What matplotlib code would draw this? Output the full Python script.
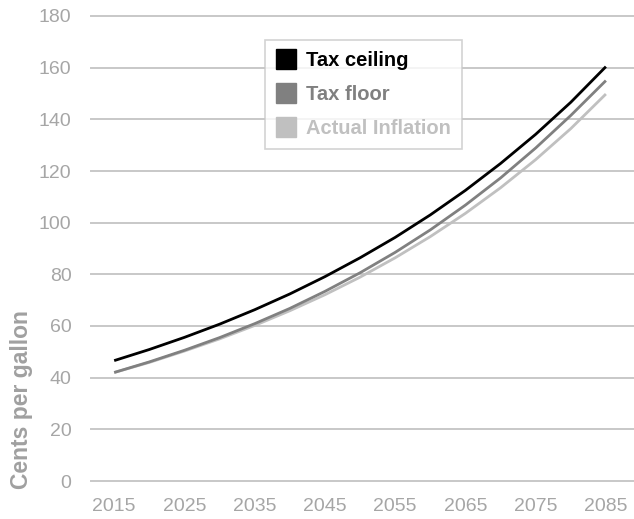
import matplotlib
matplotlib.use("Agg")
import matplotlib.pyplot as plt
from matplotlib.lines import Line2D

plt.rcParams['font.family'] = ['Liberation Sans', 'DejaVu Sans']

# values, every 5 years
years = [2015, 2020, 2025, 2030, 2035, 2040, 2045, 2050, 2055, 2060, 2065, 2070, 2075, 2080, 2085]
tax_ceiling = [46.6, 50.9, 55.6, 60.7, 66.3, 72.4, 79.1, 86.4, 94.3, 103.0, 112.5, 122.9, 134.2, 146.6, 160.4]
tax_floor = [42.0, 46.1, 50.6, 55.5, 60.9, 66.8, 73.4, 80.6, 88.5, 97.2, 106.8, 117.3, 128.9, 141.5, 155.0]
actual_inflation = [42.0, 45.9, 50.3, 55.0, 60.2, 65.9, 72.1, 78.9, 86.4, 94.6, 103.6, 113.5, 124.4, 136.4, 149.8]

series_names = ["Tax ceiling", "Tax floor", "Actual Inflation"]
series_colors = ["#000000", "#808080", "#c0c0c0"]

x_ticks = [2015, 2025, 2035, 2045, 2055, 2065, 2075, 2085]
y_ticks = [0, 20, 40, 60, 80, 100, 120, 140, 160, 180]

fig = plt.figure(figsize=(6.34, 5.19), dpi=100)
ax = fig.add_axes([91 / 634, 38 / 519, 1 - 91 / 634, 465 / 519])

# gridlines first so the curves sit on top
for yv in y_ticks:
    ax.axhline(yv, color="#c8c8c8", lw=1.4, zorder=1, clip_on=False)

all_series = [tax_ceiling, tax_floor, actual_inflation]
# draw lightest first
for vals, col in reversed(list(zip(all_series, series_colors))):
    ax.plot(years, vals, color=col, lw=2.0, zorder=3, solid_capstyle="butt")

ax.set_xlim(2011.7, 2089.0)
ax.set_ylim(0, 180)
ax.set_xticks(x_ticks)
ax.set_yticks(y_ticks)
ax.tick_params(length=0, labelsize=14, labelcolor="#a6a6a6")
ax.tick_params(axis="y", pad=14)
ax.tick_params(axis="x", pad=12)
for s in ax.spines.values():
    s.set_visible(False)

fig.text(22 / 634, (519 - 400) / 519, "Cents per gallon", rotation=90,
         ha="center", va="center", fontsize=16.5, fontweight="bold",
         color="#a0a0a0", family=["Liberation Sans Narrow", "Liberation Sans", "DejaVu Sans"])

handles = [Line2D([], [], marker="s", linestyle="none", markersize=14,
                  markerfacecolor=c, markeredgecolor=c) for c in series_colors]
leg = fig.legend(handles, series_names, loc="upper left",
                 bbox_to_anchor=(265 / 634, 1 - 40 / 519),
                 frameon=True, fancybox=False, edgecolor="#c8c8c8",
                 prop={"size": 14.5, "weight": "bold"}, labelspacing=0.75,
                 handletextpad=0.5, handlelength=1.0, borderpad=0.55,
                 borderaxespad=0)
leg.get_frame().set_linewidth(1.2)
for txt, col in zip(leg.get_texts(), series_colors):
    txt.set_color(col)

fig.savefig("out.png", dpi=100)
